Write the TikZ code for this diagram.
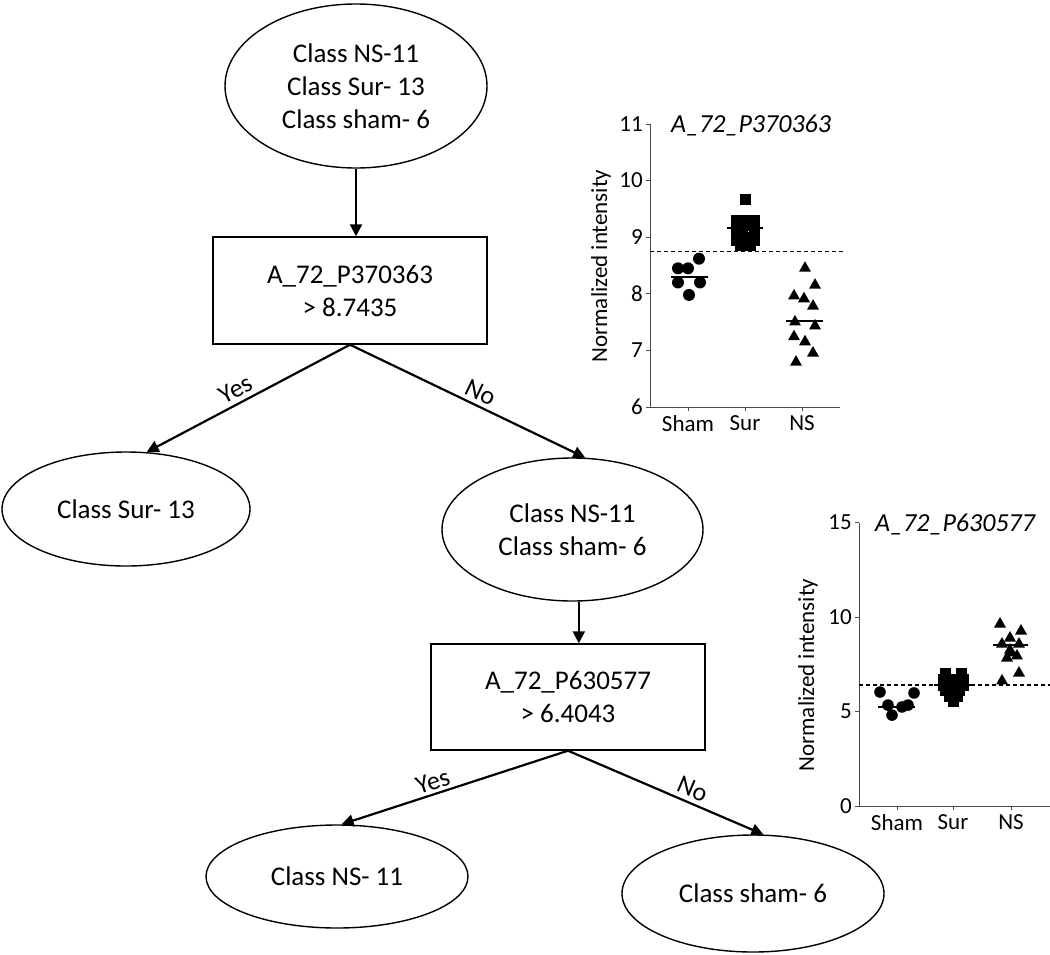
\documentclass[tikz,border=0pt]{standalone}
\usepackage{fontspec}
\setmainfont{Carlito}
\usetikzlibrary{shapes.geometric,arrows.meta}
\begin{document}
\begin{tikzpicture}[x=1pt,y=-1pt,
  treefont/.style={font=\fontsize{27}{33}\selectfont},
  leaf/.style={ellipse,draw,line width=1.4pt,inner sep=0pt,align=center,treefont},
  test/.style={rectangle,draw,line width=1.4pt,inner sep=0pt,align=center,treefont},
  arr/.style={line width=2.2pt,-{Triangle[length=12pt,width=12pt]}},
  lab/.style={font=\fontsize{26}{30}\selectfont,sloped,above,inner sep=4pt},
  axis/.style={line width=1pt,draw=black!70},
  thr/.style={line width=1.2pt,dash pattern=on 4pt off 3pt},
  mean/.style={line width=1.6pt},
  tick/.style={font=\fontsize{23}{27}\selectfont,inner sep=0pt},
  ttl/.style={font=\fontsize{26}{30}\selectfont\itshape,inner sep=0pt},
]
\useasboundingbox (0,0) rectangle (1050,954);

% ---------------- tree ----------------
\node[leaf,minimum width=262pt,minimum height=164pt] (e0) at (356,86) {Class NS-11\\Class Sur- 13\\Class sham- 6};
\node[test,minimum width=274pt,minimum height=107pt] (b1) at (350,290.5) {A\_72\_P370363\\> 8.7435};
\node[leaf,minimum width=248pt,minimum height=114pt] (eSur) at (126,509) {Class Sur- 13};
\node[leaf,minimum width=261pt,minimum height=143pt] (eNSs) at (572.5,529.5) {Class NS-11\\Class sham- 6};
\node[test,minimum width=274pt,minimum height=106pt] (b2) at (568,697) {A\_72\_P630577\\> 6.4043};
\node[leaf,minimum width=262pt,minimum height=103pt] (eNS) at (337,876.5) {Class NS- 11};
\node[leaf,minimum width=262pt,minimum height=117pt] (eSham) at (753,893.5) {Class sham- 6};

\draw[arr] (e0.south) -- (e0.south |- b1.north);
\draw[arr] (b1.south) -- node[lab,pos=0.53] (y1) {Yes} (eSur.70);
\draw[arr] (b1.south) -- node[lab,pos=0.53] (n1) {No} (eNSs.80);
\draw[arr] (eNSs.-85) -- (eNSs.-85 |- b2.north);
\draw[arr] (b2.south) -- node[lab,pos=0.58,inner sep=3pt] (y2) {Yes} (eNS.85);
\draw[arr] (b2.south) -- node[lab,pos=0.61] (n2) {No} (eSham.80);

% ---------------- plot 1 ----------------
\draw[axis] (650,124) -- (650,407) -- (840,407);
\foreach \v in {6,...,11}{
  \draw[axis] (646,{407-(\v-6)*56.6}) -- (650,{407-(\v-6)*56.6});
  \node[tick,anchor=east] (pa\v) at (643,{407-(\v-6)*56.6}) {\v};
}
\foreach \x/\t in {688/Sham,745/Sur,802/NS}{
  \draw[axis] (\x,407) -- (\x,411);
  \node[tick,anchor=north] (pc\t) at (\x,415) {\t};
}
\node[tick,rotate=90] (ylab1) at (601,266) {Normalized intensity};
\node[ttl,anchor=west] (ttl1) at (671,125) {A\_72\_P370363};
\draw[thr] (650,{407-2.7435*56.6}) -- (843,{407-2.7435*56.6});
\foreach \dx/\v in {-10/8.45,0/8.45,11/8.62,-10/8.2,12/8.2,1/7.98}
  \fill ({688+\dx},{407-(\v-6)*56.6}) circle (6pt);
\foreach \dx/\v in {0/9.66,-9/9.3,9/9.3,0/9.3,-9/9.12,0/9.2,9/9.12,-9/8.95,0/9.0,9/8.95,-5/8.85,5/8.85,-3/9.07}
  \fill ({745+\dx},{407-(\v-6)*56.6}) ++(-5.5pt,-5.5pt) rectangle ++(11pt,11pt);
\foreach \dx/\v in {3/8.47,13/8.17,-8/7.98,2/7.93,11/7.80,-7/7.52,13/7.45,-8/7.26,3/7.17,11/6.97,-6/6.81}
  \fill ({802+\dx},{407-(\v-6)*56.6}) ++(-6pt,-4.5pt) -- ++(12pt,0pt) -- ++(-6pt,10.5pt) -- cycle;
\draw[mean] (671,{407-2.30*56.6}) -- (708,{407-2.30*56.6});
\draw[mean] (727,{407-3.16*56.6}) -- (763,{407-3.16*56.6});
\draw[mean] (786,{407-1.52*56.6}) -- (823,{407-1.52*56.6});

% ---------------- plot 2 ----------------
\draw[axis] (859,522.5) -- (859,806) -- (1050,806);
\foreach \v in {0,5,10,15}{
  \draw[axis] (855,{806-\v*18.9}) -- (859,{806-\v*18.9});
  \node[tick,anchor=east] (pb\v) at (852,{806-\v*18.9}) {\v};
}
\foreach \x/\t in {897/Sham,953/Sur,1011/NS}{
  \draw[axis] (\x,806) -- (\x,810);
  \node[tick,anchor=north] (pd\t) at (\x,814) {\t};
}
\node[tick,rotate=90] (ylab2) at (808,675) {Normalized intensity};
\node[ttl,anchor=west] (ttl2) at (875,524) {A\_72\_P630577};
\draw[thr] (859,{806-6.4043*18.9}) -- (1050,{806-6.4043*18.9});
\foreach \dx/\v in {-17/6.03,17/5.98,-9/5.34,-5/4.81,5/5.24,11/5.34}
  \fill ({897+\dx},{806-\v*18.9}) circle (5.8pt);
\foreach \dx/\v in {-8/7.0,8/7.0,-10/6.7,0/6.7,10/6.7,-10/6.4,0/6.4,10/6.4,-8/6.1,6/6.1,-4/5.8,4/5.8,0/5.55}
  \fill ({953+\dx},{806-\v*18.9}) ++(-5.5pt,-5.5pt) rectangle ++(11pt,11pt);
\foreach \dx/\v in {-11/9.68,10/9.31,-1/8.94,-9/8.62,8/8.62,-1/8.3,-1/8.15,-4/7.88,6/7.99,8/7.09,-9/6.67}
  \fill ({1011+\dx},{806-\v*18.9}) ++(-6pt,-4.5pt) -- ++(12pt,0pt) -- ++(-6pt,10.5pt) -- cycle;
\draw[mean] (878,{806-5.24*18.9}) -- (915,{806-5.24*18.9});
\draw[mean] (934,{806-6.40*18.9}) -- (972,{806-6.40*18.9});
\draw[mean] (993,{806-8.52*18.9}) -- (1028,{806-8.52*18.9});
\end{tikzpicture}
\end{document}
